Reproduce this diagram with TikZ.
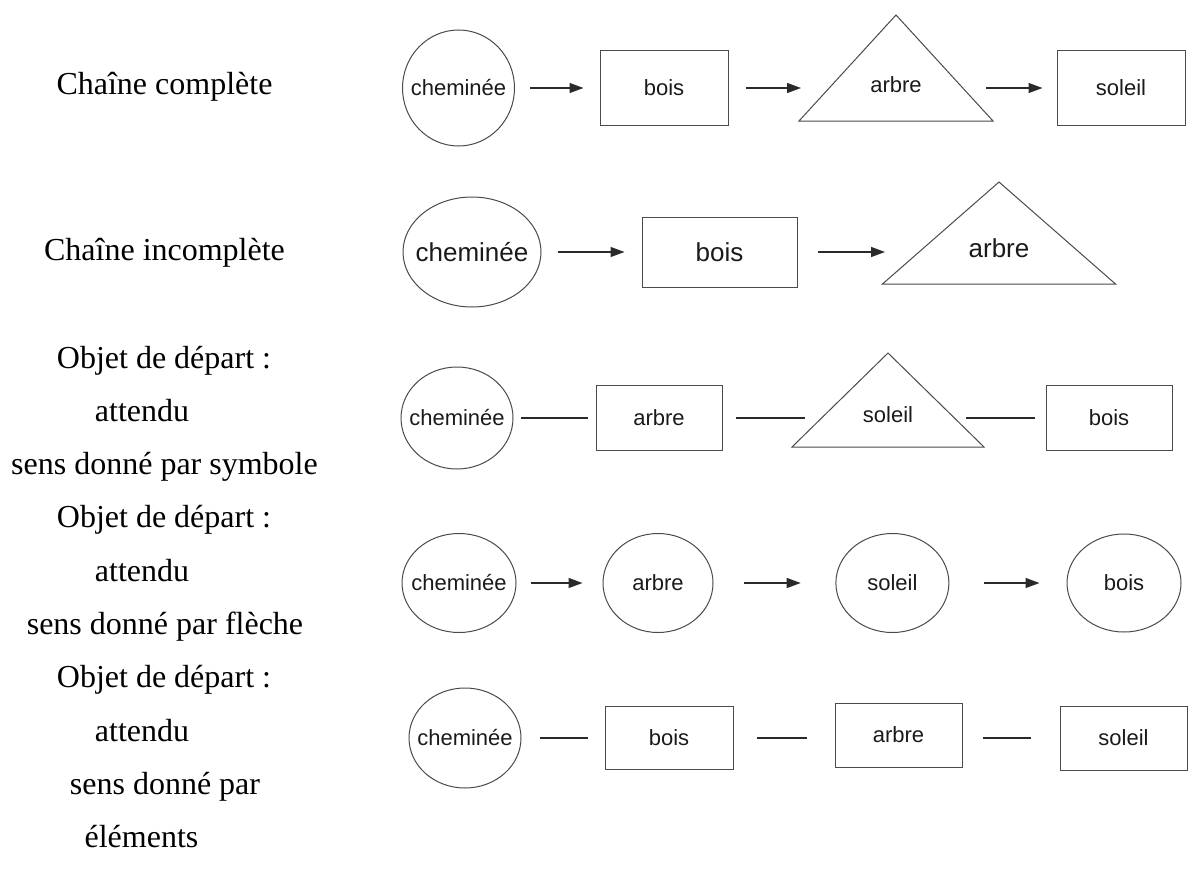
\documentclass[tikz,border=0pt]{standalone}
\usepackage{fontspec}
\setmainfont{Liberation Serif}
\newfontfamily\lsans{Liberation Sans}
\usetikzlibrary{shapes.geometric,arrows.meta}
\definecolor{shapec}{HTML}{4A4A4A}
\definecolor{linec}{HTML}{2A2A2A}
\definecolor{txtc}{HTML}{1A1A1A}
\newcommand{\zw}[1]{\makebox[0pt][c]{#1}}
\begin{document}
\begin{tikzpicture}[x=1pt,y=-1pt,
  lbl/.style={font=\fontsize{32}{38}\selectfont, anchor=base, inner sep=0pt},
  sml/.style={font=\lsans\fontsize{22}{26}\selectfont, text=txtc},
  big/.style={font=\lsans\fontsize{26}{30}\selectfont, text=txtc},
  ell/.style={draw=shapec, ellipse, inner sep=0pt, line width=1pt},
  box/.style={draw=shapec, rectangle, inner sep=0pt, line width=1pt},
  tri/.style={inner sep=0pt},
  shp/.style={draw=shapec, line width=1pt, line join=miter},
  arr/.style={draw=linec, line width=1.4pt, -{Triangle[length=14pt,width=10pt]}},
  ln/.style={draw=linec, line width=1.4pt},
]
\useasboundingbox (0,0) rectangle (1195,878);

% ---------- left labels ----------
\node[lbl] (L1) at (164.5,94) {Chaîne complète};
\node[lbl] (L2) at (164.5,260) {Chaîne incomplète};
\node[lbl] (L3) at (164,368) {Objet de départ :};
\node[lbl] (L4) at (142,421.3) {attendu};
\node[lbl] (L5) at (164.5,474.6) {sens donné par symbole};
\node[lbl] (L6) at (164,527.9) {Objet de départ :};
\node[lbl] (L7) at (142,581.2) {attendu};
\node[lbl] (L8) at (165,634.5) {sens donné par flèche};
\node[lbl] (L9) at (164,687.8) {Objet de départ :};
\node[lbl] (L10) at (142,741.1) {attendu};
\node[lbl] (L11) at (165,794.4) {sens donné par};
\node[lbl] (L12) at (141.5,847.7) {éléments};

% ---------- row 1 ----------
\node[ell,sml,minimum width=112pt,minimum height=116pt] (c1) at (458.5,88) {\zw{cheminée}};
\node[box,sml,minimum width=128pt,minimum height=75pt] (b1) at (664,88) {bois};
\node[tri,sml,text height=16pt,text depth=6.6pt] (t1) at (896,88) {arbre};
\draw[shp] ([yshift=73pt]t1.center) -- ([xshift=-97pt,yshift=-33pt]t1.center) -- ([xshift=97pt,yshift=-33pt]t1.center) -- cycle;
\node[box,sml,minimum width=128pt,minimum height=75pt] (s1) at (1121,88) {soleil};
\draw[arr,shorten <=15pt,shorten >=16pt] (c1.east) -- (b1.west);
\draw[arr,shorten <=17pt,shorten >=95pt] (b1.east) -- (t1.center);
\draw[arr,shorten <=90pt,shorten >=14pt] (t1.center) -- (s1.west);

% ---------- row 2 ----------
\node[ell,big,minimum width=138pt,minimum height=110pt] (c2) at (472,252) {\zw{cheminée}};
\node[box,big,minimum width=155pt,minimum height=70pt] (b2) at (719.5,252) {bois};
\node[tri,big,text height=19pt,text depth=9pt] (t2) at (999,252) {arbre};
\draw[shp] ([yshift=70pt]t2.center) -- ([xshift=-116.5pt,yshift=-32pt]t2.center) -- ([xshift=116.5pt,yshift=-32pt]t2.center) -- cycle;
\draw[arr,shorten <=16pt,shorten >=17pt] (c2.east) -- (b2.west);
\draw[arr,shorten <=20.5pt,shorten >=114pt] (b2.east) -- (t2.center);

% ---------- row 3 ----------
\node[ell,sml,minimum width=112pt,minimum height=102pt] (c3) at (457,418) {\zw{cheminée}};
\node[box,sml,minimum width=126pt,minimum height=65pt] (a3) at (659,418) {arbre};
\node[tri,sml,text height=16pt,text depth=8pt] (t3) at (888,418) {soleil};
\draw[shp] ([yshift=65pt]t3.center) -- ([xshift=-96pt,yshift=-29pt]t3.center) -- ([xshift=96pt,yshift=-29pt]t3.center) -- cycle;
\node[box,sml,minimum width=126pt,minimum height=65pt] (b3) at (1109,418) {bois};
\draw[ln,shorten <=7.6pt,shorten >=8pt] (c3.east) -- (a3.west);
\draw[ln,shorten <=13.7pt,shorten >=83.5pt] (a3.east) -- (t3.center);
\draw[ln,shorten <=78pt,shorten >=11pt] (t3.center) -- (b3.west);

% ---------- row 4 ----------
\node[ell,sml,minimum width=114pt,minimum height=99pt] (c4) at (459,583) {\zw{cheminée}};
\node[ell,sml,minimum width=110pt,minimum height=99pt] (a4) at (658,583) {\zw{arbre}};
\node[ell,sml,minimum width=113pt,minimum height=99pt] (s4) at (892.4,583) {\zw{soleil}};
\node[ell,sml,minimum width=114pt,minimum height=98pt] (b4) at (1124,583) {\zw{bois}};
\draw[arr,shorten <=14pt,shorten >=20pt] (c4.east) -- (a4.west);
\draw[arr,shorten <=30.5pt,shorten >=34.7pt] (a4.east) -- (s4.west);
\draw[arr,shorten <=35pt,shorten >=27pt] (s4.east) -- (b4.west);

% ---------- row 5 ----------
\node[ell,sml,minimum width=112pt,minimum height=100pt] (c5) at (465,738) {\zw{cheminée}};
\node[box,sml,minimum width=128pt,minimum height=63pt] (b5) at (669,738) {bois};
\node[box,sml,minimum width=127pt,minimum height=64pt] (a5) at (898.5,735) {arbre};
\node[box,sml,minimum width=127pt,minimum height=64pt] (s5) at (1123.5,738) {soleil};
\draw[ln,shorten <=18pt,shorten >=17pt] (c5.east) -- (b5.west);
\draw[ln,shorten <=23.6pt,shorten >=28pt] (b5.east) -- (b5.east -| a5.west);
\draw[ln,shorten <=20.6pt,shorten >=29pt] (a5.east |- s5.west) -- (s5.west);
\end{tikzpicture}
\end{document}
